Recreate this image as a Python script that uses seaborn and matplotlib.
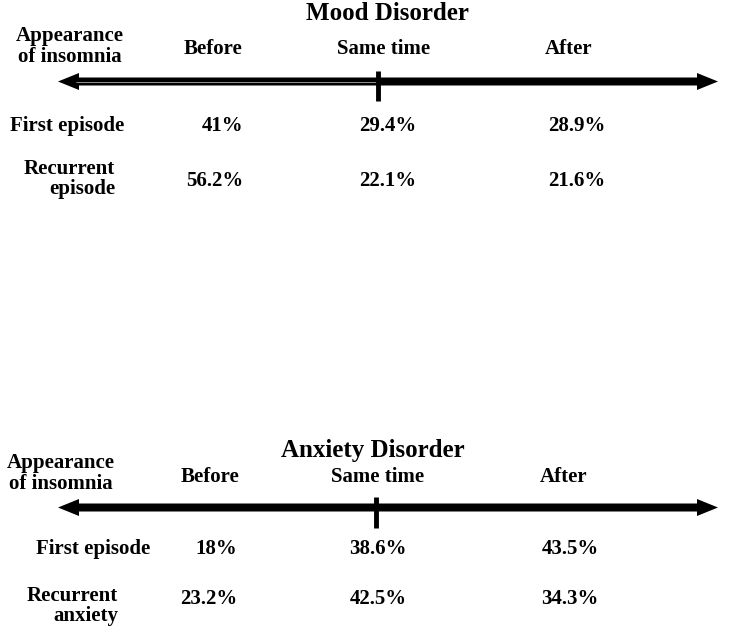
import matplotlib.pyplot as plt
import seaborn as sns

# Data
titles = ['Mood Disorder', 'Anxiety Disorder']
timing = ['Before', 'Same time', 'After']
row_labels_mood = ['First episode', 'Recurrent\nepisode']
row_labels_anx = ['First episode', 'Recurrent\nanxiety']
mood_first = [41, 29.4, 28.9]
mood_recurrent = [56.2, 22.1, 21.6]
anx_first = [18, 38.6, 43.5]
anx_recurrent = [23.2, 42.5, 34.3]

sns.set_theme(style='white')
plt.rcParams['font.family'] = ['Liberation Serif', 'DejaVu Serif']

fig = plt.figure(figsize=(7.29, 6.35), dpi=100)
ax = fig.add_axes([0, 0, 1, 1])
ax.set_xlim(0, 729)
ax.set_ylim(635, 0)
ax.axis('off')

fs = 15


def fmt(v):
    return f'{v:g}%'


def draw_panel(p):
    y0 = p['y']
    kw = dict(fontsize=fs, fontweight='bold', color='black')
    ax.text(p['title_x'], p['title_y'], p['title'], ha='center', va='center',
            fontsize=18, fontweight='bold', color='black')
    ax.text(p['head_x'], p['head_y'], 'Appearance\nof insomnia', ha='center', va='center',
            linespacing=1.05, **kw)
    for lab, cx in zip(timing, p['cols']):
        ax.text(cx, p['col_y'], lab, ha='center', va='center', **kw)

    # timeline arrow
    mid = p['tick_x']
    for end in (718, 58):
        ax.arrow(mid, y0, end - mid, 0, width=8, head_width=17, head_length=21,
                 length_includes_head=True, color='black', lw=0)
    if p['split']:
        ax.plot([76, mid - 2], [y0, y0], color='white', lw=0.4)
    ax.plot([mid, mid], [p['tick'][0], p['tick'][1]], color='black', lw=3.5,
            solid_capstyle='butt')

    # rows
    for (lab, ly), vy, vals in zip(p['labels'], p['val_y'], p['rows']):
        ax.text(p['label_x'](lab), ly, lab, ha=p['label_ha'](lab), va='center',
                multialignment='right', linespacing=1.05, **kw)
        ax.text(p['first_right'], vy, fmt(vals[0]), ha='right', va='center', **kw)
        for v, cx in zip(vals[1:], p['val_cols']):
            ax.text(cx, vy, fmt(v), ha='center', va='center', **kw)


draw_panel(dict(
    title=titles[0], title_x=387, title_y=14, head_x=70, head_y=46.5,
    cols=[213, 384, 569], col_y=49.5, y=81.5, tick_x=378.5, tick=(71, 101), split=True,
    labels=[(row_labels_mood[0], 126), (row_labels_mood[1], 179)],
    label_x=lambda s: 67.5 if '\n' not in s else 115,
    label_ha=lambda s: 'center' if '\n' not in s else 'right',
    val_y=[126, 181], rows=[mood_first, mood_recurrent],
    first_right=243, val_cols=[388, 577],
))

draw_panel(dict(
    title=titles[1], title_x=373, title_y=451, head_x=61, head_y=473.5,
    cols=[210, 378, 564], col_y=477, y=507.5, tick_x=376.5, tick=(497, 528), split=False,
    labels=[(row_labels_anx[0], 549), (row_labels_anx[1], 606)],
    label_x=lambda s: 93.5 if '\n' not in s else 118,
    label_ha=lambda s: 'center' if '\n' not in s else 'right',
    val_y=[549, 599], rows=[anx_first, anx_recurrent],
    first_right=237, val_cols=[378, 570],
))

fig.savefig('out.png', dpi=100)
